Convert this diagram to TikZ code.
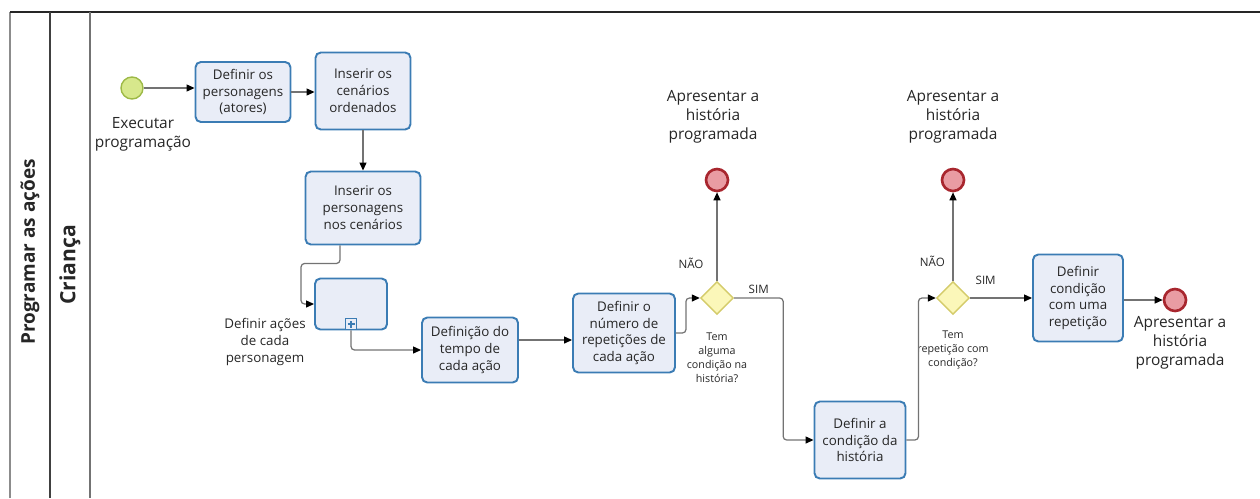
\documentclass[tikz,border=0pt]{standalone}
\usepackage{fontspec}
\setmainfont{Open Sans}
\usepackage{tikz}
\usetikzlibrary{arrows.meta}
\usetikzlibrary{positioning,shapes.geometric}
\definecolor{taskfill}{HTML}{E9EDF7}
\definecolor{taskdraw}{HTML}{3B7CB4}
\definecolor{startfill}{HTML}{D7E88C}
\definecolor{startdraw}{HTML}{9DB946}
\definecolor{endfill}{HTML}{E99CA3}
\definecolor{enddraw}{HTML}{A8262E}
\definecolor{gwfill}{HTML}{FBF7B9}
\definecolor{gwdraw}{HTML}{D4CB6A}
\tikzset{
  every node/.style={font=\rmfamily, text=black!85},
  flow/.style={
    draw=black!55,
    line width=0.7pt,
    rounded corners=2pt,
    -{Triangle[length=1.6mm, width=1.4mm, black]}
  }
}

\begin{document}
\begin{tikzpicture}[x=0.02cm, y=-0.02cm]
  % Define styles for the BPMN elements
  \tikzset{
    task/.style={
      draw=taskdraw,
      fill=taskfill,
      rounded corners=3pt,
      line width=1.1pt,
      align=center,
      inner sep=1pt,
      font=\fontsize{7.6}{9.6}\selectfont
    },
    startev/.style={
      draw=startdraw,
      fill=startfill,
      circle,
      line width=0.8pt,
      minimum size=0.44cm,
      inner sep=0pt
    },
    endev/.style={
      draw=enddraw,
      fill=endfill,
      circle,
      line width=1.5pt,
      minimum size=0.44cm,
      inner sep=0pt
    },
    gateway/.style={
      draw=gwdraw,
      fill=gwfill,
      diamond,
      line width=0.8pt,
      minimum size=0.66cm,
      inner sep=0pt
    },
    evlabel/.style={align=center, font=\fontsize{8.8}{10.8}\selectfont},
    gwlabel/.style={align=center, font=\fontsize{6.1}{8}\selectfont},
    cond/.style={font=\fontsize{6.6}{8}\selectfont},
    lane/.style={rotate=90, font=\bfseries}
  }
  \useasboundingbox (0,0) rectangle (1260,498);

  % Pool and lane
  \draw[black!45, line width=1pt] (10,498) -- (10,12);
  \draw[black!85, line width=1.3pt] (10,12) -- (1260,12);
  \draw[black!75, line width=1.3pt] (50,12) -- (50,498);
  \draw[black!55, line width=1pt] (90,12) -- (90,498);
  \node[lane, font=\fontsize{10.8}{12}\selectfont\bfseries] (pool) at (30,252) {Programar as ações};
  \node[lane, font=\fontsize{12}{14}\selectfont\bfseries] (crianca) at (70,265) {Criança};

  % Events and tasks
  \node[startev] (start) at (132,88) {};
  \node[evlabel] (startlbl) at (143,134) {Executar\\programação};
  \node[task, minimum width=1.9cm, minimum height=1.2cm] (defpers) at (243,92) {Definir os\\personagens\\(atores)};
  \node[task, minimum width=1.9cm, minimum height=1.54cm] (insceno) at (363,91) {Inserir os\\cenários\\ordenados};
  \node[task, minimum width=2.3cm, minimum height=1.46cm] (inspers) at (363,208) {Inserir os\\personagens\\nos cenários};
  \node[task, minimum width=1.44cm, minimum height=1.02cm] (acoes) at (351,304) {};
  \node[draw=taskdraw, fill=taskfill, line width=0.8pt, minimum size=0.22cm, inner sep=0pt, anchor=south] (plusmark) at (acoes.south) {};
  \draw[taskdraw, line width=1pt] ([xshift=-0.07cm]plusmark.center) -- ([xshift=0.07cm]plusmark.center);
  \draw[taskdraw, line width=1pt] ([yshift=-0.07cm]plusmark.center) -- ([yshift=0.07cm]plusmark.center);
  \node[align=center, font=\fontsize{7.6}{9.6}\selectfont] (acoeslbl) at (265,342) {Definir ações\\de cada\\personagem};
  \node[task, minimum width=1.92cm, minimum height=1.3cm] (tempo) at (470,350) {Definição do\\tempo de\\cada ação};
  \node[task, minimum width=2.04cm, minimum height=1.58cm] (repet) at (624,333) {Definir o\\número de\\repetições de\\cada ação};

  % First decision
  \node[gateway] (gw1) at (717,298) {};
  \node[gwlabel] (gw1lbl) at (717,358) {Tem\\alguma\\condição na\\história?};
  \node[endev] (end1) at (717,180) {};
  \node[evlabel] (end1lbl) at (713,117) {Apresentar a\\história\\programada};
  \node[task, minimum width=1.82cm, minimum height=1.54cm] (condhist) at (860,440) {Definir a\\condição da\\história};

  % Second decision
  \node[gateway] (gw2) at (953,298) {};
  \node[gwlabel] (gw2lbl) at (953,350) {Tem\\repetição com\\condição?};
  \node[endev] (end2) at (953,180) {};
  \node[evlabel] (end2lbl) at (953,117) {Apresentar a\\história\\programada};
  \node[task, minimum width=1.8cm, minimum height=1.74cm] (condrep) at (1078,298) {Definir\\condição\\com uma\\repetição};
  \node[endev] (end3) at (1175,300) {};
  \node[evlabel] (end3lbl) at (1180,343) {Apresentar a\\história\\programada};

  % Connect the flow
  \draw[flow] (start) -- (defpers.west |- start.east);
  \draw[flow] (defpers) -- (insceno.west |- defpers.east);
  \draw[flow] (insceno) -- (inspers);
  \draw[flow] ([xshift=-0.46cm]inspers.south) -- ++(0,18) -| ([xshift=-0.26cm]acoes.west) -- (acoes.west);
  \draw[flow] (plusmark.south) |- (tempo.west);
  \draw[flow] ([yshift=0.2cm]tempo.east) -- ([yshift=0.2cm]tempo.east -| repet.west);
  \draw[flow] (repet.east) -- ++(10,0) |- (gw1.west);
  \draw[flow] (gw1.north) -- node[cond, pos=0.2, left=4pt] (nao1) {NÃO} (end1.south);
  \draw[flow] (gw1.east) -- node[cond, above=-1pt] (sim1) {SIM} ++(49,0) |- (condhist.west);
  \draw[flow] (condhist.east) -- ++(12,0) |- (gw2.west);
  \draw[flow] (gw2.north) -- node[cond, pos=0.22, left=1pt] (nao2) {NÃO} (end2.south);
  \draw[flow] (gw2.east) -- node[cond, pos=0.25, above=4pt] (sim2) {SIM} (condrep.west);
  \draw[flow] (condrep.east |- end3.west) -- (end3.west);
\end{tikzpicture}
\end{document}
